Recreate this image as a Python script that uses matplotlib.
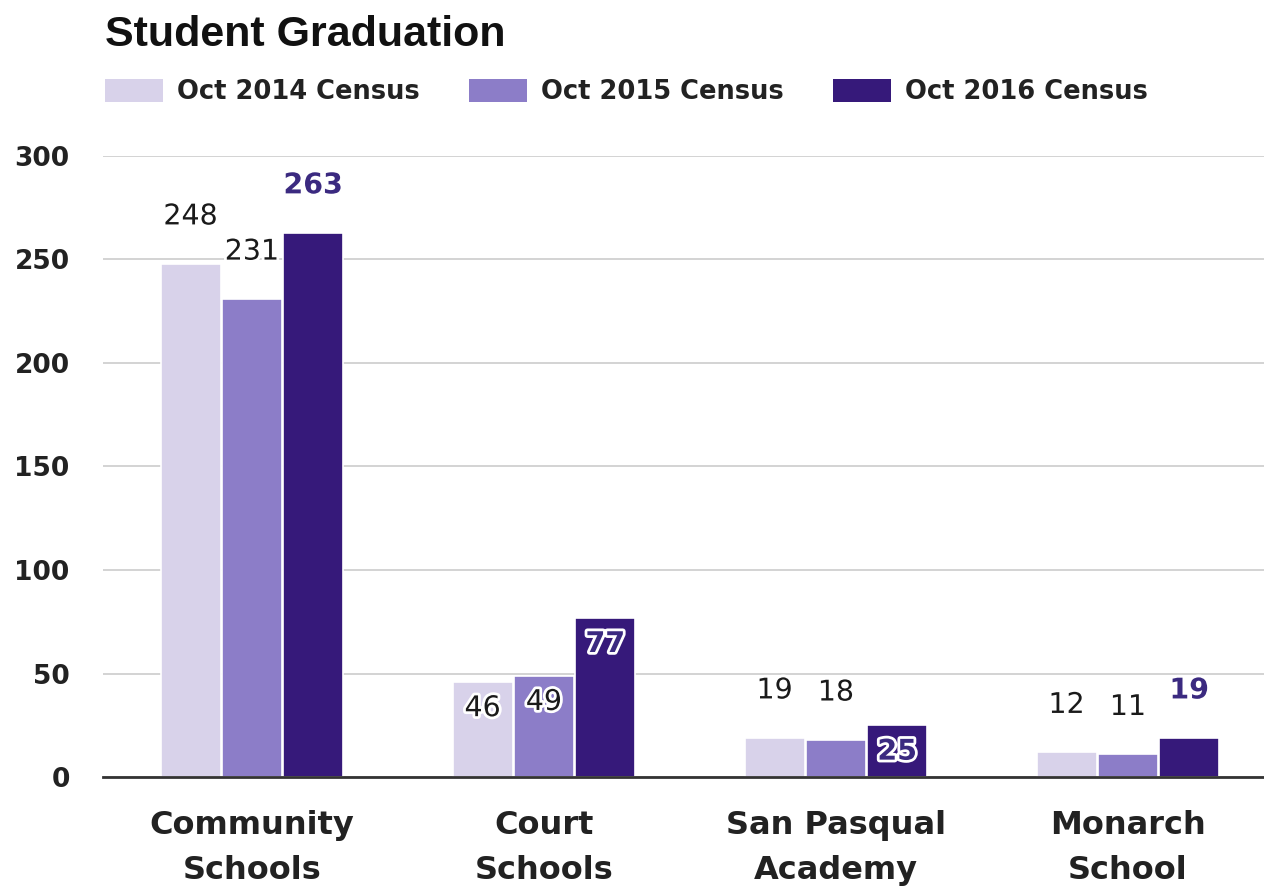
import matplotlib.pyplot as plt
import matplotlib.patheffects as pe
import numpy as np

# --- Données ---
categories = ["Community\nSchools", "Court\nSchools", "San Pasqual\nAcademy", "Monarch\nSchool"]
series_names = ["Oct 2014 Census", "Oct 2015 Census", "Oct 2016 Census"]
census_2014 = [248, 46, 19, 12]
census_2015 = [231, 49, 18, 11]
census_2016 = [263, 77, 25, 19]
y_ticks = [0, 50, 100, 150, 200, 250, 300]

series = [census_2014, census_2015, census_2016]
colors = ["#d8d2ea", "#8c7dc8", "#36197a"]
label_colors = ["#1a1a1a", "#1a1a1a", "#3b2a80"]
label_weights = ["normal", "normal", "bold"]
# étiquettes placées dans la barre (série, groupe)
inside = {(0, 1), (1, 1), (2, 1), (2, 2)}

W, H = 1264, 890
fig = plt.figure(figsize=(W / 100, H / 100), dpi=100)
ax = fig.add_axes([103 / W, 1 - 777 / H, 1 - 103 / W, (777 - 156) / H])

x = np.arange(len(categories))
step = 0.21
width = 0.205
for i, vals in enumerate(series):
    bars = ax.bar(x + (i - 1) * step, vals, width, color=colors[i],
                  edgecolor="white", linewidth=1.2, label=series_names[i], zorder=2)
    for j, (b, v) in enumerate(zip(bars, vals)):
        dy = -19 if (i, j) in inside else 34
        t = ax.annotate(str(v), (b.get_x() + b.get_width() / 2, v),
                        xytext=(0, dy), textcoords="offset points",
                        ha="center", va="center", fontsize=20.5,
                        color=label_colors[i], fontweight=label_weights[i], zorder=4)
        t.set_path_effects([pe.withStroke(linewidth=4, foreground="white")])

# Axes
ax.set_xlim(-0.51, 3.466)
ax.set_ylim(0, 300)
ax.set_yticks(y_ticks)
ax.set_yticklabels([str(v) for v in y_ticks], fontsize=19, fontweight="bold", color="#222222")
ax.tick_params(axis="y", length=0, pad=24)
ax.set_xticks(x)
ax.set_xticklabels(categories, fontsize=23, fontweight="bold", color="#222222", linespacing=1.55)
ax.tick_params(axis="x", length=0, pad=24)
ax.grid(axis="y", color="#cccccc", linewidth=1.2, zorder=0)
ax.set_axisbelow(True)
for s in ["top", "right", "left"]:
    ax.spines[s].set_visible(False)
ax.spines["bottom"].set_color("#333333")
ax.spines["bottom"].set_linewidth(2)

# Titre
fig.text(105 / W, 1 - 35 / H, "Student Graduation", fontsize=31,
         family="Liberation Sans", fontweight="bold", ha="left", va="center", color="#111111")

# Légende
leg = fig.legend(loc="upper left", bbox_to_anchor=(105 / W, 1 - 79 / H), ncol=3,
                 frameon=False, borderaxespad=0, borderpad=0,
                 prop={"size": 18.5, "weight": "bold"},
                 handlelength=2.26, handleheight=1.0, handletextpad=0.55, columnspacing=1.9)
for p in leg.get_patches():
    p.set_edgecolor("none")
for t in leg.get_texts():
    t.set_color("#222222")

fig.savefig("out.png", dpi=100)
